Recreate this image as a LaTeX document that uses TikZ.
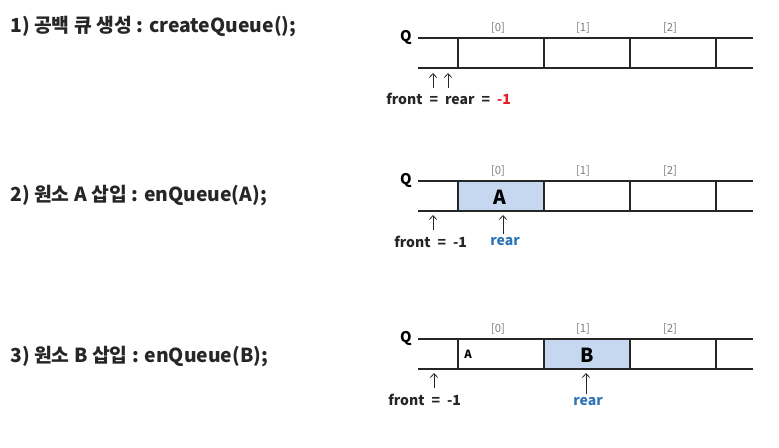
\documentclass[tikz,border=0pt]{standalone}
\usepackage{fontspec}
\usepackage{xcolor}
\newfontfamily\krfont{Noto Sans CJK KR}
\usetikzlibrary{arrows.meta, positioning, calc}
\definecolor{qgray}{HTML}{7F7F7F}
\definecolor{qdark}{HTML}{262626}
\definecolor{qblue}{HTML}{2E75B6}
\definecolor{qred}{HTML}{E31E24}
\definecolor{qcell}{HTML}{C5D8F0}

\begin{document}
\begin{tikzpicture}[
  x=0.75pt, y=-0.75pt,
  every node/.style={font=\krfont, inner sep=0pt},
  steplabel/.style={anchor=west, font=\krfont\bfseries\fontsize{14.5}{17}\selectfont, text=qdark},
  qline/.style={line width=2.1pt, draw=qdark},
  qname/.style={font=\krfont\bfseries\fontsize{11}{13}\selectfont},
  idxlabel/.style={font=\krfont\fontsize{8.5}{10}\selectfont, text=qgray},
  bigitem/.style={font=\krfont\bfseries\fontsize{14.5}{17}\selectfont},
  smallitem/.style={font=\krfont\bfseries\fontsize{8.5}{10}\selectfont},
  ptrtext/.style={font=\krfont\bfseries\fontsize{10.5}{12}\selectfont, text=qdark},
  ptrarrow/.style={-{Straight Barb[length=3pt, width=5.5pt]}, line width=0.6pt, draw=qdark},
]
\useasboundingbox (0,0) rectangle (779,448);

% Left side: step titles
\node[steplabel] (s1) at (10,27) {1) 공백 큐 생성 : createQueue();};
\node[steplabel] (s2) at (10,196) {2) 원소 A 삽입 : enQueue(A);};
\node[steplabel] (s3) at (10,357) {3) 원소 B 삽입 : enQueue(B);};

% filled cells
\fill[qcell] (458,181) rectangle (544,211);
\fill[qcell] (544,339) rectangle (630,369);

% Right side: queue arrays
\foreach \t/\n in {38/1,181/2,339/3} {
  \draw[qline] (418,\t) -- (753,\t);
  \draw[qline] (418,\t+30) -- (753,\t+30);
  \foreach \x in {458,544,630,716}
    \draw[qline] (\x,\t) -- (\x,\t+30);
  \node[qname] (q\n) at (406,\t-1) {Q};
  \node[idxlabel] (i\n a) at (498,\t-10) {[0]};
  \node[idxlabel] (i\n b) at (583,\t-10) {[1]};
  \node[idxlabel] (i\n c) at (670,\t-10) {[2]};
}

\node[bigitem] (A2) at (500,197) {A};
\node[smallitem] (A3) at (468,354) {A};
\node[bigitem] (B3) at (587,355) {B};

% pointers
\node[ptrtext, anchor=west] (fr1) at (386,99) {front\enspace=\enspace rear\enspace=\enspace\textcolor{qred}{-1}};
\coordinate (f1s) at (433,88); \coordinate (f1e) at (433,73);
\coordinate (r1s) at (448,88); \coordinate (r1e) at (448,73);
\draw[ptrarrow] (f1s) -- (f1e);
\draw[ptrarrow] (r1s) -- (r1e);

\node[ptrtext, anchor=west] (f2) at (394,242) {front\enspace=\enspace-1};
\node[ptrtext, text=qblue] (r2) at (505,242) {rear};
\coordinate (f2s) at (433,230); \coordinate (f2e) at (433,215);
\coordinate (r2e) at (503,215);
\draw[ptrarrow] (f2s) -- (f2e);
\draw[ptrarrow] (r2.north -| r2e) ++(0,-4) -- (r2e);

\node[ptrtext, anchor=west] (f3) at (388,400) {front\enspace=\enspace-1};
\node[ptrtext, text=qblue] (r3) at (588,402) {rear};
\coordinate (f3s) at (434,388); \coordinate (f3e) at (434,373);
\coordinate (r3e) at (586,373);
\draw[ptrarrow] (f3s) -- (f3e);
\draw[ptrarrow] (r3.north -| r3e) ++(0,-4) -- (r3e);

\end{tikzpicture}
\end{document}
